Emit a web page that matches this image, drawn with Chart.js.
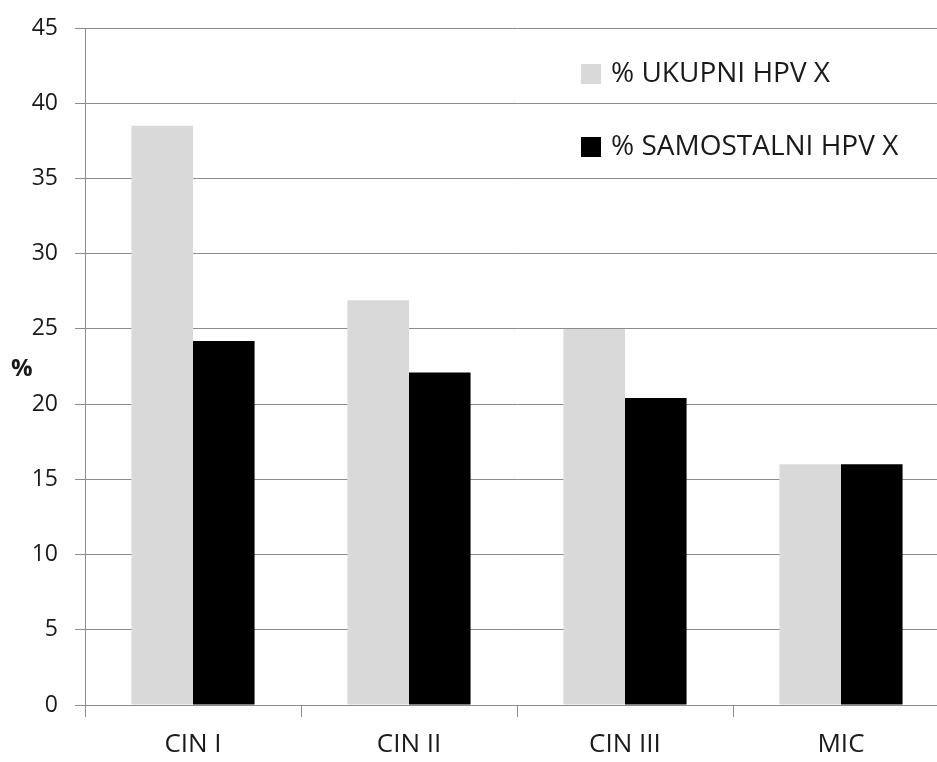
<!DOCTYPE html>
<html>
<head>
<meta charset="utf-8">
<script src="https://cdn.jsdelivr.net/npm/chart.js@4"></script>
<style>
  html, body { margin: 0; padding: 0; background: #fff; overflow: hidden; }
  #wrap { width: 949px; height: 762px; }
</style>
</head>
<body>
<div id="wrap"><canvas id="chart"></canvas></div>
<script>
// Chart data
const categories = ["CIN I", "CIN II", "CIN III", "MIC"];
const ukupni = [38.5, 26.9, 25.0, 16.0];
const samostalni = [24.2, 22.1, 20.4, 16.0];
const seriesLabels = ["% UKUPNI HPV X", "% SAMOSTALNI HPV X"];
const yTitle = "%";

const FONT = "'Open Sans', sans-serif";
const gridColor = "#8c8c8c";
const textColor = "#1a1a1a";

// Legend drawn inside the plot area, top right, plus the horizontal "%" title
const insideLegend = {
  id: "insideLegend",
  afterDraw(chart) {
    const ctx = chart.ctx;
    const rows = [74, 147];
    ctx.save();
    ctx.font = "28px " + FONT;
    ctx.textBaseline = "middle";
    chart.data.datasets.forEach((ds, i) => {
      ctx.fillStyle = ds.backgroundColor;
      ctx.fillRect(581, rows[i] - 10, 20, 20);
      ctx.fillStyle = textColor;
      ctx.fillText(ds.label, 611, rows[i]);
    });

    // axis title, not rotated
    const y = chart.scales.y;
    ctx.font = "bold 24px " + FONT;
    ctx.textAlign = "left";
    ctx.fillText(yTitle, 11, (y.top + y.bottom) / 2 + 3);
    ctx.restore();
  },
};

new Chart(document.getElementById("chart"), {
  type: "bar",
  data: {
    labels: categories,
    datasets: [
      { label: seriesLabels[0], data: ukupni, backgroundColor: "#d9d9d9" },
      { label: seriesLabels[1], data: samostalni, backgroundColor: "#000000" },
    ],
  },
  options: {
    responsive: true,
    maintainAspectRatio: false,
    animation: false,
    datasets: {
      bar: { categoryPercentage: 0.57, barPercentage: 1.0 },
    },
    layout: { padding: { top: 28, right: 0, left: 0, bottom: 0 } },
    plugins: {
      legend: { display: false },
      tooltip: { enabled: false },
    },
    scales: {
      x: {
        grid: {
          drawOnChartArea: false,
          drawTicks: true,
          tickLength: 12,
          color: gridColor,
        },
        border: { color: gridColor },
        ticks: {
          color: textColor,
          font: { family: FONT, size: 26 },
          padding: 12,
        },
        afterFit(scale) {
          scale.height = 57;
        },
      },
      y: {
        min: 0,
        max: 45,
        ticks: {
          stepSize: 5,
          color: textColor,
          font: { family: FONT, size: 23 },
          padding: 17,
        },
        grid: { color: gridColor, tickLength: 10 },
        border: { color: gridColor },
        afterFit(scale) {
          scale.width = 85;
          scale.paddingTop = 12;
          scale.paddingBottom = 12;
        },
      },
    },
  },
  plugins: [insideLegend],
});
</script>
</body>
</html>
